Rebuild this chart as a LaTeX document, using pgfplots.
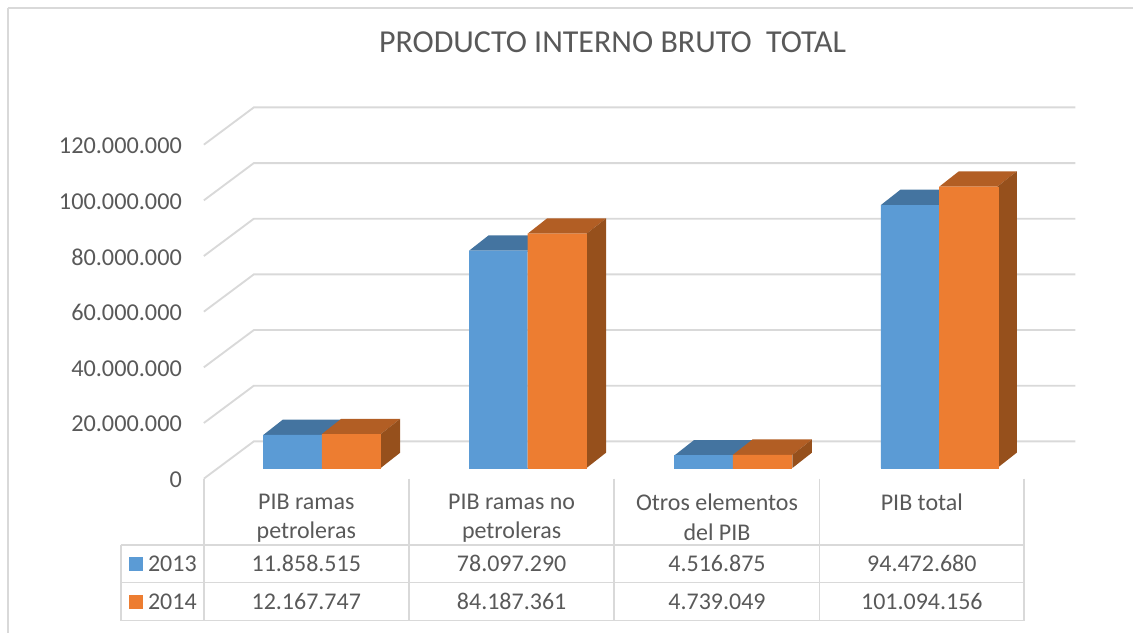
\documentclass[border=0pt]{standalone}
\usepackage{fontspec}
\setmainfont{Carlito}
\usepackage{pgfplots}
\usepackage{pgfplotstable}
\pgfplotsset{compat=1.18}
\definecolor{cBlue}{HTML}{5B9BD5}
\definecolor{cOrange}{HTML}{ED7D31}
\definecolor{cBlueTop}{HTML}{4474A0}
\definecolor{cOrangeTop}{HTML}{B25E24}
\definecolor{cOrangeSide}{HTML}{96501C}
\definecolor{cGrid}{HTML}{D9D9D9}
\definecolor{cText}{HTML}{595959}

% x = picture pixels, y = millions; bars stand on y=0
\pgfplotstableread{
x a2013 a2014
322 11.858515 12.167747
528 78.097290 84.187361
733.5 4.516875 4.739049
940 94.472680 101.094156
}\pibdata

% top face of a bar: x left, x right, value, colour
\newcommand{\barcap}[4]{%
  \pgfmathsetmacro\xa{#1+19.5}\pgfmathsetmacro\xb{#2+19.5}\pgfmathsetmacro\yb{#3+5.5}%
  \addplot[fill=#4, draw=none] coordinates {(#1,#3) (#2,#3) (\xb,\yb) (\xa,\yb)} --cycle;}
% side face: x right, value
\newcommand{\barside}[2]{%
  \pgfmathsetmacro\xb{#1+19.5}\pgfmathsetmacro\yb{#2+5.5}%
  \addplot[fill=cOrangeSide, draw=none] coordinates {(#1,0) (#1,#2) (\xb,\yb) (\xb,5.5)} --cycle;}
% one wall gridline: value on front edge
\newcommand{\wall}[1]{%
  \pgfmathsetmacro\ya{#1-3.84}\pgfmathsetmacro\yb{#1+9.55}%
  \addplot[cGrid, line width=1.4pt] coordinates {(204,\ya) (254,\yb) (1076,\yb)};}
\newcommand{\cell}[3]{\node[text=cText, font=\fontsize{18}{20}\selectfont] at (axis cs:#1,#2) {#3};}

\begin{document}
\begin{tikzpicture}
\begin{axis}[
  scale only axis, width=850.5pt, height=474.75pt,
  xmin=0, xmax=1134, ymin=-59.14, ymax=168.15,
  axis line style={draw=none}, tick style={draw=none},
  xtick=\empty,
  ytick={-3.84,16.16,36.16,56.16,76.16,96.16,116.16},
  yticklabels={0,20.000.000,40.000.000,60.000.000,80.000.000,100.000.000,120.000.000},
  y tick label style={anchor=east, xshift=140pt, yshift=-0.8pt, text=cText, font=\fontsize{18.2}{20}\selectfont},
  clip=false,
]
% chart frame
\addplot[cGrid, line width=1.2pt] coordinates {(8,165.3) (1134,165.3)};
\addplot[cGrid, line width=1.2pt] coordinates {(8,165.3) (8,-59.14)};

% walls
\wall{0} \wall{20} \wall{40} \wall{60} \wall{80} \wall{100} \wall{120}

% table grid
\addplot[cGrid, line width=1.4pt] coordinates {(121,-27.54) (1025,-27.54)};
\addplot[cGrid, line width=1.4pt] coordinates {(121,-41.18) (1025,-41.18)};
\addplot[cGrid, line width=1.4pt] coordinates {(121,-54.83) (1025,-54.83)};
\addplot[cGrid, line width=1.4pt] coordinates {(121,-27.54) (121,-54.83)};
\addplot[cGrid, line width=1.4pt] coordinates {(204,-3.84) (204,-54.83)};
\addplot[cGrid, line width=1.4pt] coordinates {(409,-3.84) (409,-54.83)};
\addplot[cGrid, line width=1.4pt] coordinates {(614,-3.84) (614,-54.83)};
\addplot[cGrid, line width=1.4pt] coordinates {(820,-3.84) (820,-54.83)};
\addplot[cGrid, line width=1.4pt] coordinates {(1025,-3.84) (1025,-54.83)};

% bars, back faces first
\barcap{263.5}{322}{11.858515}{cBlueTop}
\barcap{322}{381}{12.167747}{cOrangeTop}
\barside{381}{12.167747}
\barcap{469.5}{528}{78.097290}{cBlueTop}
\barcap{528}{587}{84.187361}{cOrangeTop}
\barside{587}{84.187361}
\barcap{675}{733.5}{4.516875}{cBlueTop}
\barcap{733.5}{793}{4.739049}{cOrangeTop}
\barside{793}{4.739049}
\barcap{881.5}{940}{94.472680}{cBlueTop}
\barcap{940}{998}{101.094156}{cOrangeTop}
\barside{998}{101.094156}
\addplot[ybar, bar width=58.5, bar shift=-29.25, fill=cBlue, draw=cBlue, line width=0.05pt] table[x=x, y=a2013] {\pibdata};
\addplot[ybar, bar width=58.5, bar shift=29.25, fill=cOrange, draw=cOrange, line width=0.05pt] table[x=x, y=a2014] {\pibdata};

% legend keys in the table
\addplot[only marks, mark=square*, mark size=5pt, mark options={fill=cBlue, draw=cBlue, line width=0pt}] coordinates {(136,-34.6)};
\addplot[only marks, mark=square*, mark size=5pt, mark options={fill=cOrange, draw=cOrange, line width=0pt}] coordinates {(136,-48.2)};

% title
\node[text=cText, font=\fontsize{24}{28}\selectfont] at (axis cs:613,153) {PRODUCTO INTERNO BRUTO\ \ TOTAL};

% table text
\cell{306.5}{-12.2}{PIB ramas}
\cell{306.5}{-23}{petroleras}
\cell{512}{-12.2}{PIB ramas no}
\cell{512}{-23}{petroleras}
\cell{717.5}{-12.2}{Otros elementos}
\cell{717.5}{-23}{del PIB}
\cell{922.5}{-12.2}{PIB total}
\cell{172.5}{-34.4}{2013}
\cell{172.5}{-48.0}{2014}
\cell{306.5}{-34.4}{11.858.515}
\cell{512}{-34.4}{78.097.290}
\cell{717.5}{-34.4}{4.516.875}
\cell{922.5}{-34.4}{94.472.680}
\cell{306.5}{-48.0}{12.167.747}
\cell{512}{-48.0}{84.187.361}
\cell{717.5}{-48.0}{4.739.049}
\cell{922.5}{-48.0}{101.094.156}
\end{axis}
\end{tikzpicture}
\end{document}
